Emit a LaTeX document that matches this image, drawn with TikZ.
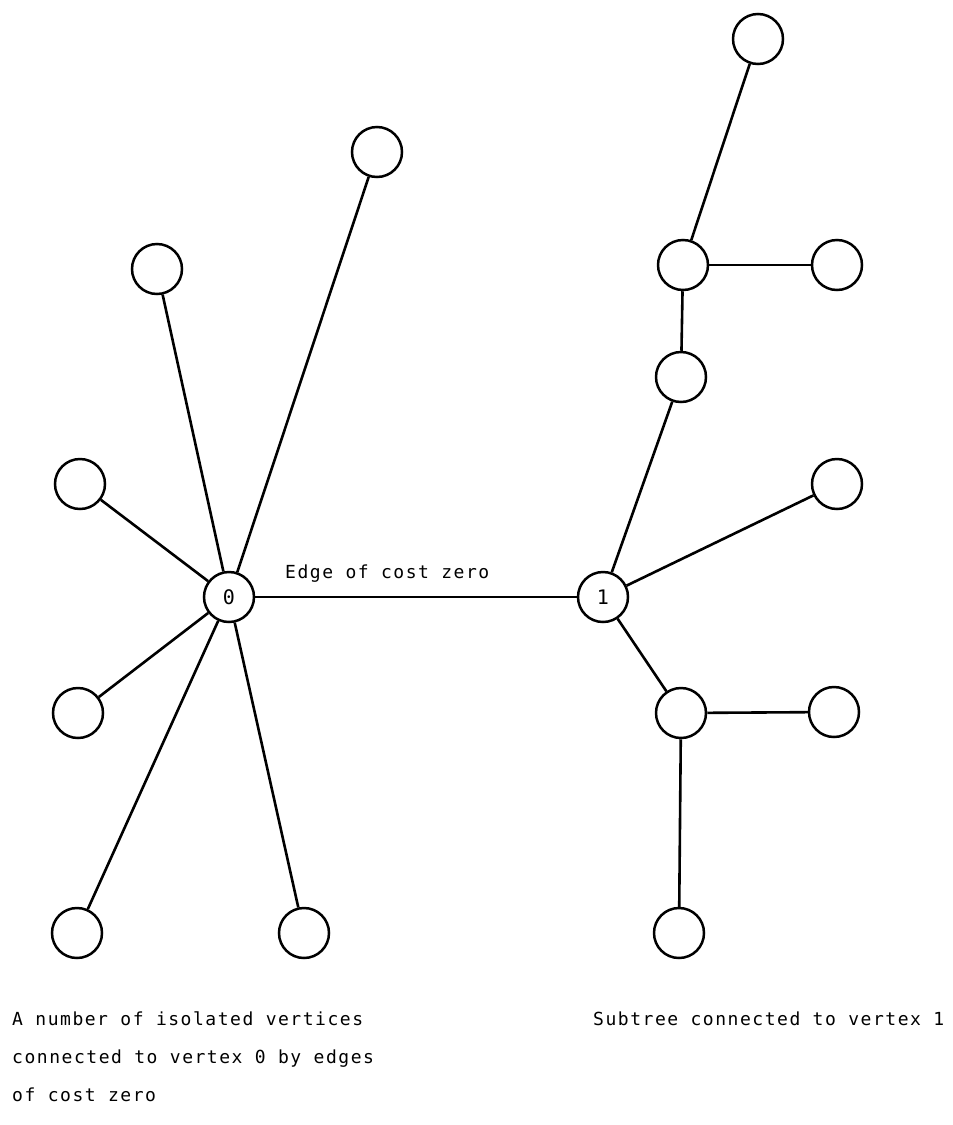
\documentclass[tikz,border=0pt]{standalone}
\usepackage{fontspec}
\newfontfamily\gothic[LetterSpace=8.5]{DejaVu Sans Mono}
\newfontfamily\digits{DejaVu Sans Mono}
\begin{document}
\begin{tikzpicture}[x=1pt,y=-1pt,
  vtx/.style={circle,draw,line width=2.5pt,minimum size=50pt,inner sep=0pt,font=\digits\fontsize{20}{22}\selectfont},
  edge/.style={line width=2.6pt},
  lbl/.style={anchor=base west,inner sep=0pt,font=\gothic\fontsize{18}{20}\selectfont}]
\useasboundingbox (0,0) rectangle (953,1125);
\node[vtx] (T) at (758,39) {};
\node[vtx] (A) at (377,152) {};
\node[vtx] (B) at (157,269) {};
\node[vtx] (C) at (683,265) {};
\node[vtx] (D) at (837,265) {};
\node[vtx] (E) at (681,377) {};
\node[vtx] (F) at (80,484) {};
\node[vtx] (G) at (837,484) {};
\node[vtx] (n0) at (229,597) {0};
\node[vtx] (n1) at (603,597) {1};
\node[vtx] (H) at (78,713) {};
\node[vtx] (I) at (681,713) {};
\node[vtx] (J) at (834,712) {};
\node[vtx] (K) at (77,933) {};
\node[vtx] (L) at (304,933) {};
\node[vtx] (M) at (679,933) {};
\foreach \v in {A,B,F,H,K,L,n1} \draw[edge] (n0) -- (\v);
\foreach \v in {E,G,I} \draw[edge] (n1) -- (\v);
\draw[edge] (E) -- (C);
\draw[edge] (C) -- (T);
\draw[edge] (C) -- (D);
\draw[edge] (I) -- (J);
\draw[edge] (I) -- (M);
\node[lbl] (e0) at (285,578) {Edge of cost zero};
\node[lbl] (t1) at (12,1025) {A number of isolated vertices};
\node[lbl] (t2) at (12,1063) {connected to vertex 0 by edges};
\node[lbl] (t3) at (12,1101) {of cost zero};
\node[lbl] (t4) at (593,1025) {Subtree connected to vertex 1};
\end{tikzpicture}
\end{document}
